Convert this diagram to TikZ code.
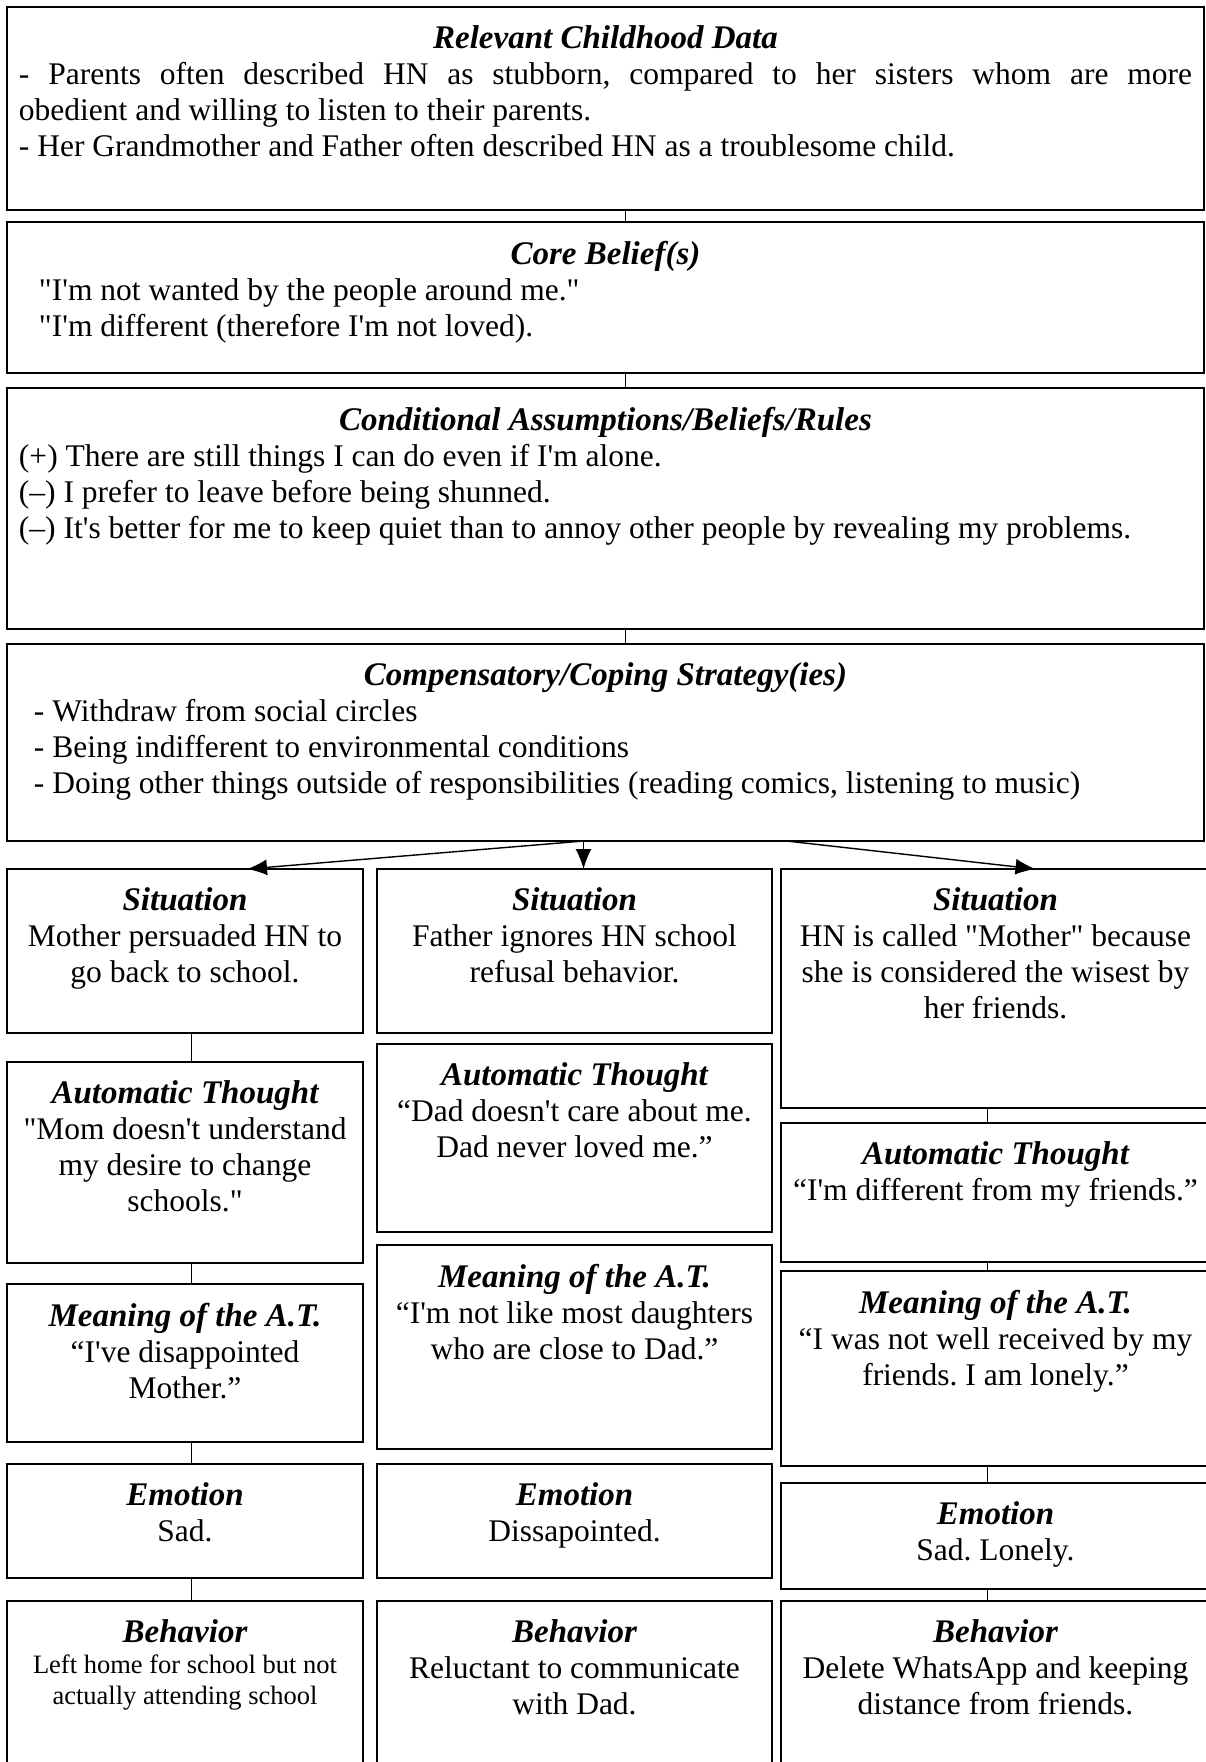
\documentclass[tikz,border=0pt]{standalone}
\usepackage{fontspec}
\setmainfont{Liberation Serif}[Ligatures=TeXOff]
\usetikzlibrary{positioning, arrows.meta}
\frenchspacing
\newcommand{\headfont}{\fontsize{33}{36}\selectfont\bfseries\itshape}
\newcommand{\bodysize}{\fontsize{31.5}{36}\selectfont}
\newcommand{\widebox}[3]{\parbox[t][#1][t]{1173pt}{\vspace*{19pt}{\centering\headfont #2\par}#3}}
\newcommand{\cellbox}[4]{\parbox[t][#1][t]{#2}{\centering\vspace*{19pt}{\headfont #3\par}#4}}
\tikzstyle{panel} = [rectangle, draw=black, line width=2pt, inner xsep=12pt, inner ysep=0pt, outer sep=0pt, anchor=north west, font=\bodysize]
\tikzstyle{cell} = [panel, inner xsep=8pt]
\tikzstyle{link} = [line width=1pt]
\tikzstyle{arrow} = [line width=1.4pt, -{Latex[length=20pt,width=16pt]}]

\begin{document}
\begin{tikzpicture}
\useasboundingbox (0,0) rectangle (1206pt,-1762pt);

\node (child) [panel] at (7pt,-7pt) {\widebox{203pt}{Relevant Childhood Data}{- Parents often described HN as stubborn, compared to her sisters whom are more\linebreak obedient and willing to listen to their parents.\par
- Her Grandmother and Father often described HN as a troublesome child.}};
\node (core) [panel, below=12pt of child.south west, anchor=north west] {\widebox{151pt}{Core Belief(s)}{\hspace*{20pt}"I'm not wanted by the people around me."\par
\hspace*{20pt}"I'm different (therefore I'm not loved).}};
\node (cond) [panel, below=15pt of core.south west, anchor=north west] {\widebox{241pt}{Conditional Assumptions/Beliefs/Rules}{(+) There are still things I can do even if I'm alone.\par
(–) I prefer to leave before being shunned.\par
(–) It's better for me to keep quiet than to annoy other people by revealing my problems.}};
\node (coping) [panel, below=15pt of cond.south west, anchor=north west] {\widebox{197pt}{Compensatory/Coping Strategy(ies)}{\hspace*{15pt}- Withdraw from social circles\par
\hspace*{15pt}- Being indifferent to environmental conditions\par
\hspace*{15pt}- Doing other things outside of responsibilities (reading comics, listening to music)}};

\node (sit1) [cell] at (7pt,-869pt) {\cellbox{164pt}{340pt}{Situation}{Mother persuaded HN to\\ go back to school.}};
\node (at1) [cell, below=29pt of sit1.south west, anchor=north west] {\cellbox{201pt}{340pt}{Automatic Thought}{"Mom doesn't understand\\ my desire to change\\ schools."}};
\node (mean1) [cell, below=21pt of at1.south west, anchor=north west] {\cellbox{158pt}{340pt}{Meaning of the A.T.}{“I've disappointed\\ Mother.”}};
\node (emo1) [cell, below=22pt of mean1.south west, anchor=north west] {\cellbox{114pt}{340pt}{Emotion}{Sad.}};
\node (beh1) [cell, below=23pt of emo1.south west, anchor=north west] {\cellbox{200pt}{340pt}{Behavior}{{\fontsize{26.5}{31}\selectfont Left home for school but not\\ actually attending school\par}}};

\node (sit2) [cell] at (377pt,-869pt) {\cellbox{164pt}{379pt}{Situation}{Father ignores HN school\\ refusal behavior.}};
\node (at2) [cell, below=11pt of sit2.south west, anchor=north west] {\cellbox{188pt}{379pt}{Automatic Thought}{“Dad doesn't care about me.\\ Dad never loved me.”}};
\node (mean2) [cell, below=13pt of at2.south west, anchor=north west] {\cellbox{204pt}{379pt}{Meaning of the A.T.}{“I'm not like most daughters\\ who are close to Dad.”}};
\node (emo2) [cell, below=15pt of mean2.south west, anchor=north west] {\cellbox{114pt}{379pt}{Emotion}{Dissapointed.}};
\node (beh2) [cell, below=23pt of emo2.south west, anchor=north west] {\cellbox{200pt}{379pt}{Behavior}{Reluctant to communicate\\ with Dad.}};

\node (sit3) [cell] at (781pt,-869pt) {\cellbox{239pt}{413pt}{Situation}{HN is called "Mother" because\\ she is considered the wisest by\\ her friends.}};
\node (at3) [cell, below=15pt of sit3.south west, anchor=north west] {\cellbox{139pt}{413pt}{Automatic Thought}{“I'm different from my friends.”}};
\node (mean3) [cell, below=9pt of at3.south west, anchor=north west] {\cellbox{195pt}{413pt}{Meaning of the A.T.}{“I was not well received by my\\ friends. I am lonely.”}};
\node (emo3) [cell, below=17pt of mean3.south west, anchor=north west] {\cellbox{106pt}{413pt}{Emotion}{Sad. Lonely.}};
\node (beh3) [cell, below=12pt of emo3.south west, anchor=north west] {\cellbox{200pt}{413pt}{Behavior}{Delete WhatsApp and keeping\\ distance from friends.}};

\coordinate (spine) at (625pt,0);
\coordinate (lane1) at (191pt,0);
\coordinate (lane3) at (987pt,0);
\coordinate (fork) at ([xshift=-22pt]coping.south);
\coordinate (forkr) at ([xshift=181pt]coping.south);

\draw [link] (child.south -| spine) -- (core.north -| spine);
\draw [link] (core.south -| spine) -- (cond.north -| spine);
\draw [link] (cond.south -| spine) -- (coping.north -| spine);

\draw [arrow] (fork) -- ([xshift=62pt]sit1.north);
\draw [arrow] (fork) -- (fork |- sit2.north);
\draw [arrow] (forkr) -- ([xshift=40pt]sit3.north);

\draw [link] (sit1.south -| lane1) -- (at1.north -| lane1);
\draw [link] (at1.south -| lane1) -- (mean1.north -| lane1);
\draw [link] (mean1.south -| lane1) -- (emo1.north -| lane1);
\draw [link] (emo1.south -| lane1) -- (beh1.north -| lane1);

\draw [link] (sit3.south -| lane3) -- (at3.north -| lane3);
\draw [link] (at3.south -| lane3) -- (mean3.north -| lane3);
\draw [link] (mean3.south -| lane3) -- (emo3.north -| lane3);
\draw [link] (emo3.south -| lane3) -- (beh3.north -| lane3);

\end{tikzpicture}
\end{document}
